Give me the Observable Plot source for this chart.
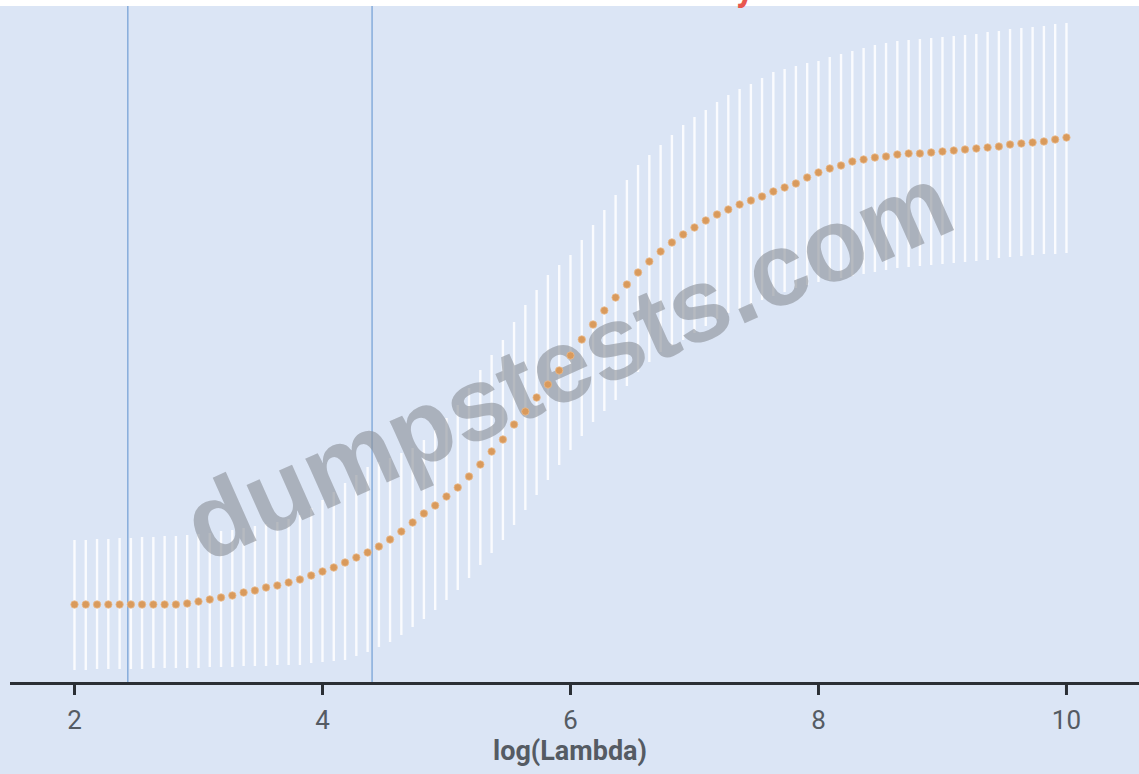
<!DOCTYPE html>
<html>
<head>
<meta charset="utf-8">
<script src="https://cdn.jsdelivr.net/npm/d3@7"></script>
<script src="https://cdn.jsdelivr.net/npm/@observablehq/plot@0.6"></script>
<style>
  html, body { margin: 0; padding: 0; background: #ffffff; }
  #wrap { position: relative; width: 1139px; height: 774px; overflow: hidden; }
  #chart svg { display: block; border-top: 6px solid #ffffff; background: #dbe5f5; }
  #red { position: absolute; left: 736px; top: -30px; font: bold 36px Roboto, sans-serif; line-height: 36px; color: #e8574e; z-index: 2; }
</style>
</head>
<body>
<div id="wrap">
  <div id="chart"></div>
  <div id="red">y</div>
</div>
<script>
// log(lambda) sequence
const logLambda = [
  2.000, 2.091, 2.182, 2.273, 2.364, 2.455, 2.545, 2.636, 2.727, 2.818, 2.909,
  3.000, 3.091, 3.182, 3.273, 3.364, 3.455, 3.545, 3.636, 3.727, 3.818, 3.909,
  4.000, 4.091, 4.182, 4.273, 4.364, 4.455, 4.545, 4.636, 4.727, 4.818, 4.909,
  5.000, 5.091, 5.182, 5.273, 5.364, 5.455, 5.545, 5.636, 5.727, 5.818, 5.909,
  6.000, 6.091, 6.182, 6.273, 6.364, 6.455, 6.545, 6.636, 6.727, 6.818, 6.909,
  7.000, 7.091, 7.182, 7.273, 7.364, 7.455, 7.545, 7.636, 7.727, 7.818, 7.909,
  8.000, 8.091, 8.182, 8.273, 8.364, 8.455, 8.545, 8.636, 8.727, 8.818, 8.909,
  9.000, 9.091, 9.182, 9.273, 9.364, 9.455, 9.545, 9.636, 9.727, 9.818, 9.909,
  10.000
];
// cross-validated mean (arbitrary units)
const cvMean = [
  0.79, 0.79, 0.79, 0.79, 0.79, 0.79, 0.79, 0.79, 0.79, 0.79, 0.80,
  0.82, 0.84, 0.86, 0.88, 0.91, 0.93, 0.96, 0.98, 1.01, 1.04, 1.08,
  1.12, 1.16, 1.21, 1.26, 1.31, 1.37, 1.44, 1.52, 1.61, 1.70, 1.78,
  1.87, 1.96, 2.07, 2.19, 2.32, 2.44, 2.59, 2.72, 2.86, 2.99, 3.13,
  3.28, 3.44, 3.59, 3.73, 3.86, 3.99, 4.11, 4.22, 4.32, 4.41, 4.49,
  4.56, 4.63, 4.69, 4.74, 4.79, 4.83, 4.87, 4.92, 4.96, 5.00, 5.06,
  5.11, 5.15, 5.18, 5.22, 5.24, 5.26, 5.27, 5.29, 5.30, 5.30, 5.31,
  5.32, 5.33, 5.34, 5.35, 5.36, 5.37, 5.39, 5.40, 5.41, 5.42, 5.44,
  5.46
];
const cvUpper = [
  1.43, 1.43, 1.44, 1.44, 1.45, 1.45, 1.46, 1.46, 1.47, 1.47, 1.48,
  1.49, 1.50, 1.52, 1.53, 1.55, 1.57, 1.59, 1.61, 1.64, 1.68, 1.75,
  1.83, 1.91, 2.00, 2.08, 2.16, 2.21, 2.25, 2.30, 2.35, 2.43, 2.53,
  2.65, 2.78, 2.95, 3.13, 3.28, 3.43, 3.61, 3.78, 3.93, 4.08, 4.18,
  4.28, 4.43, 4.58, 4.73, 4.88, 5.03, 5.18, 5.28, 5.38, 5.48, 5.58,
  5.66, 5.73, 5.81, 5.88, 5.94, 5.99, 6.05, 6.11, 6.14, 6.17, 6.20,
  6.22, 6.26, 6.29, 6.32, 6.35, 6.38, 6.40, 6.42, 6.43, 6.44, 6.45,
  6.46, 6.47, 6.48, 6.49, 6.51, 6.52, 6.54, 6.55, 6.56, 6.57, 6.59,
  6.60
];
const cvLower = [
  0.13, 0.13, 0.14, 0.14, 0.14, 0.14, 0.14, 0.15, 0.15, 0.15, 0.15,
  0.15, 0.16, 0.16, 0.16, 0.17, 0.17, 0.17, 0.18, 0.18, 0.18, 0.20,
  0.21, 0.22, 0.23, 0.27, 0.31, 0.36, 0.41, 0.48, 0.56, 0.64, 0.73,
  0.83, 0.93, 1.05, 1.18, 1.30, 1.43, 1.58, 1.73, 1.88, 2.03, 2.18,
  2.33, 2.47, 2.61, 2.72, 2.83, 2.97, 3.11, 3.21, 3.31, 3.37, 3.43,
  3.50, 3.57, 3.64, 3.70, 3.74, 3.78, 3.83, 3.87, 3.91, 3.95, 3.98,
  4.01, 4.03, 4.05, 4.07, 4.09, 4.11, 4.13, 4.15, 4.16, 4.17, 4.18,
  4.19, 4.20, 4.21, 4.22, 4.23, 4.25, 4.26, 4.27, 4.28, 4.29, 4.29,
  4.30
];
// lambda.min and lambda.1se reference lines
const refLines = [2.43, 4.40];
const xTicks = [2, 4, 6, 8, 10];
const xDomain = [1.484, 10.589];
const yDomain = [0, 6.77];
const axisLabel = "log(Lambda)";
const watermark = "dumpstests.com";

const rows = logLambda.map((x, i) => ({x, mean: cvMean[i], lo: cvLower[i], hi: cvUpper[i]}));

const chart = Plot.plot({
  width: 1139,
  height: 768,
  marginLeft: 10,
  marginRight: 0,
  marginTop: 0,
  marginBottom: 91,
  style: {background: "#dbe5f5", fontFamily: "Roboto, sans-serif", overflow: "visible"},
  x: {domain: xDomain, axis: null},
  y: {domain: yDomain, axis: null},
  marks: [
    Plot.ruleX(rows, {x: "x", y1: "lo", y2: "hi", stroke: "#ffffff", strokeWidth: 2.4, strokeOpacity: 0.85}),
    Plot.ruleX(refLines, {stroke: "#86acdb", strokeWidth: 1.5}),
    Plot.text([watermark], {
      frameAnchor: "middle", dx: -6, dy: 20, rotate: -24,
      fontSize: 104, fontWeight: "bold", fontFamily: "Liberation Sans, Arial, sans-serif",
      fill: "#8d9299", fillOpacity: 0.62
    }),
    Plot.dot(rows, {x: "x", y: "mean", r: 3.7, fill: "#d99a5c", stroke: "#e8b98a", strokeWidth: 0.8}),
    Plot.ruleY([0], {stroke: "#2b2f35", strokeWidth: 3}),
    Plot.axisX({
      ticks: xTicks, tickSize: 12, tickPadding: 15, tickFormat: d => String(d),
      fontSize: 26, stroke: "#2b2f35", strokeWidth: 3, fill: "#555b63", label: null
    }),
    Plot.text([axisLabel], {
      frameAnchor: "bottom", dy: 68, fontSize: 27, fontWeight: "bold",
      fill: "#555b63", lineAnchor: "middle", dx: -5
    })
  ]
});
document.getElementById("chart").appendChild(chart);
</script>
</body>
</html>
